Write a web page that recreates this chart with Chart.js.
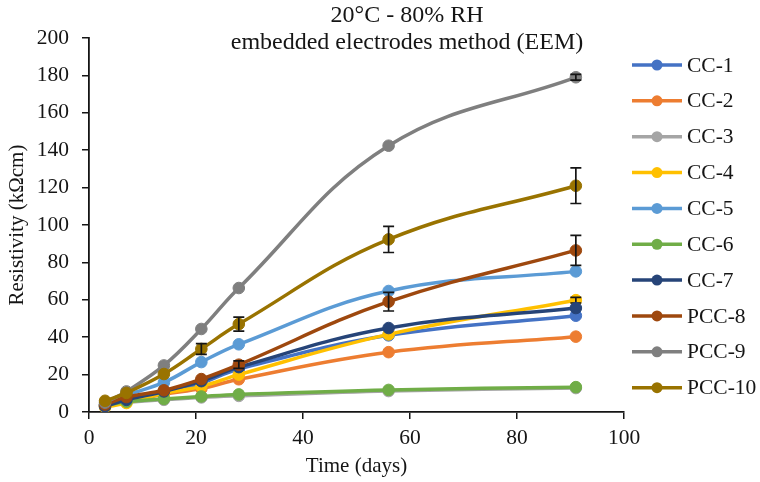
<!DOCTYPE html>
<html>
<head>
<meta charset="utf-8">
<script src="https://cdn.jsdelivr.net/npm/chart.js@4.4.1/dist/chart.umd.min.js"></script>
<style>
  html, body { margin: 0; padding: 0; background: #fff; }
  #wrap { position: relative; width: 760px; height: 482px; }
</style>
</head>
<body>
<div id="wrap"><canvas id="chart"></canvas></div>
<script>
/* ---- data: resistivity (kΩcm) vs age (days), 20°C / 80% RH, EEM ---- */
var DAYS = [3, 7, 14, 21, 28, 56, 91];

var NAMES  = ['CC-1', 'CC-2', 'CC-3', 'CC-4', 'CC-5', 'CC-6', 'CC-7', 'PCC-8', 'PCC-9', 'PCC-10'];
var COLORS = ['#4472C4', '#ED7D31', '#A5A5A5', '#FFC000', '#5B9BD5', '#70AD47', '#264478', '#9E480E', '#7F7F7F', '#997300'];

var CC1   = [3.5, 6.0, 10.5, 15.5, 23.0, 41.0, 51.5];
var CC2   = [3.5, 5.5, 9.5, 12.5, 17.5, 32.0, 40.3];
var CC3   = [3.0, 5.0, 6.5, 7.8, 8.6, 11.2, 12.8];
var CC4   = [2.5, 4.8, 10.0, 13.7, 20.0, 41.5, 59.8];
var CC5   = [4.0, 9.0, 15.8, 26.7, 36.2, 64.7, 75.2];
var CC6   = [3.5, 5.5, 7.0, 8.3, 9.4, 11.8, 13.3];
var CC7   = [3.0, 6.5, 11.0, 16.5, 24.0, 44.9, 55.6];
var PCC8  = [4.0, 8.0, 11.6, 17.6, 25.3, 59.0, 86.4];
var PCC9  = [5.0, 11.0, 24.9, 44.4, 66.3, 142.4, 179.0];
var PCC10 = [6.0, 10.2, 20.3, 33.7, 47.0, 92.3, 121.0];

/* standard deviations (0 = no bar shown) */
var ERR_CC4   = [0, 0, 0, 0, 0, 0, 1.5];
var ERR_PCC8  = [0, 0, 0, 0, 2.0, 5.0, 8.0];
var ERR_PCC9  = [0, 0, 0, 0, 0, 0, 1.5];
var ERR_PCC10 = [0, 0, 0, 2.9, 3.7, 7.0, 9.5];

var VALUES = [CC1, CC2, CC3, CC4, CC5, CC6, CC7, PCC8, PCC9, PCC10];
var ERRORS = [null, null, null, ERR_CC4, null, null, null, ERR_PCC8, ERR_PCC9, ERR_PCC10];

var X_TICKS = [0, 20, 40, 60, 80, 100];
var Y_TICKS = [0, 20, 40, 60, 80, 100, 120, 140, 160, 180, 200];

var FONT = '"Liberation Serif", "Times New Roman", serif';
var INK  = '#151515';

var datasets = NAMES.map(function (name, i) {
  return {
    label: name,
    data: DAYS.map(function (d, j) { return { x: d, y: VALUES[i][j] }; }),
    errors: ERRORS[i],
    borderColor: COLORS[i],
    backgroundColor: COLORS[i],
    pointBackgroundColor: COLORS[i],
    pointBorderColor: COLORS[i],
    borderWidth: 3.5,
    pointRadius: 5.8,
    pointBorderWidth: 1,
    tension: 0.4,
    fill: false,
    order: NAMES.length - i
  };
});

/* vertical error bars with caps */
var errorBars = {
  id: 'errorBars',
  afterDatasetDraw: function (chart, args) {
    var ds = chart.data.datasets[args.index];
    if (!ds.errors) return;
    var ctx = chart.ctx, ys = chart.scales.y, xs = chart.scales.x;
    ctx.save();
    ctx.strokeStyle = INK;
    ctx.lineWidth = 1.7;
    ds.data.forEach(function (p, j) {
      var e = ds.errors[j];
      if (!e) return;
      var px = xs.getPixelForValue(p.x);
      var top = ys.getPixelForValue(p.y + e);
      var bot = ys.getPixelForValue(p.y - e);
      ctx.beginPath();
      ctx.moveTo(px, top); ctx.lineTo(px, bot);
      ctx.moveTo(px - 5.5, top); ctx.lineTo(px + 5.5, top);
      ctx.moveTo(px - 5.5, bot); ctx.lineTo(px + 5.5, bot);
      ctx.stroke();
    });
    ctx.restore();
  }
};

/* two-line heading */
var heading = {
  id: 'heading',
  afterDraw: function (chart) {
    var ctx = chart.ctx;
    ctx.save();
    ctx.fillStyle = INK;
    ctx.font = '24px ' + FONT;
    ctx.textAlign = 'center';
    ctx.textBaseline = 'middle';
    ctx.fillText('20°C - 80% RH', 407, 16);
    ctx.fillText('embedded electrodes method (EEM)', 407, 43);
    ctx.restore();
  }
};

/* legend: line sample with marker, label on the right */
var sideLegend = {
  id: 'sideLegend',
  afterDraw: function (chart) {
    var ctx = chart.ctx;
    ctx.save();
    ctx.font = '21.5px ' + FONT;
    ctx.textBaseline = 'middle';
    chart.data.datasets.forEach(function (ds, i) {
      var y = 65 + i * 35.85;
      ctx.strokeStyle = ds.borderColor;
      ctx.lineWidth = 3.5;
      ctx.beginPath();
      ctx.moveTo(632, y); ctx.lineTo(682, y);
      ctx.stroke();
      ctx.fillStyle = ds.borderColor;
      ctx.beginPath();
      ctx.arc(657, y, 5.5, 0, Math.PI * 2);
      ctx.fill();
      ctx.fillStyle = INK;
      ctx.fillText(ds.label, 687, y + 1);
    });
    ctx.restore();
  }
};

new Chart(document.getElementById('chart'), {
  type: 'line',
  data: { datasets: datasets },
  plugins: [errorBars, heading, sideLegend],
  options: {
    responsive: true,
    maintainAspectRatio: false,
    animation: false,
    layout: { padding: { top: 38, right: 136, bottom: 0, left: 0 } },
    plugins: {
      legend: { display: false },
      tooltip: { enabled: false }
    },
    scales: {
      x: {
        type: 'linear',
        min: 0, max: 100,
        afterBuildTicks: function (s) { s.ticks = X_TICKS.map(function (v) { return { value: v }; }); },
        afterFit: function (s) { s.height = 70; },
        grid: { drawOnChartArea: false, drawTicks: true, tickLength: 7, color: INK, lineWidth: 1.5 },
        border: { display: true, color: INK, width: 1.8 },
        ticks: { color: INK, font: { family: FONT, size: 21.5 }, padding: 6, maxRotation: 0 },
        title: { display: true, text: 'Time (days)', color: INK, font: { family: FONT, size: 21 }, padding: { top: 0, bottom: 3 } }
      },
      y: {
        min: 0, max: 200,
        afterBuildTicks: function (s) { s.ticks = Y_TICKS.map(function (v) { return { value: v }; }); },
        afterFit: function (s) { s.width = 89; },
        grid: { drawOnChartArea: false, drawTicks: true, tickLength: 7, color: INK, lineWidth: 1.5 },
        border: { display: true, color: INK, width: 1.8 },
        ticks: { color: INK, font: { family: FONT, size: 21.5 }, padding: 13 },
        title: { display: true, text: 'Resistivity (kΩcm)', color: INK, font: { family: FONT, size: 21 }, padding: { top: 5, bottom: 0 } }
      }
    }
  }
});
</script>
</body>
</html>
